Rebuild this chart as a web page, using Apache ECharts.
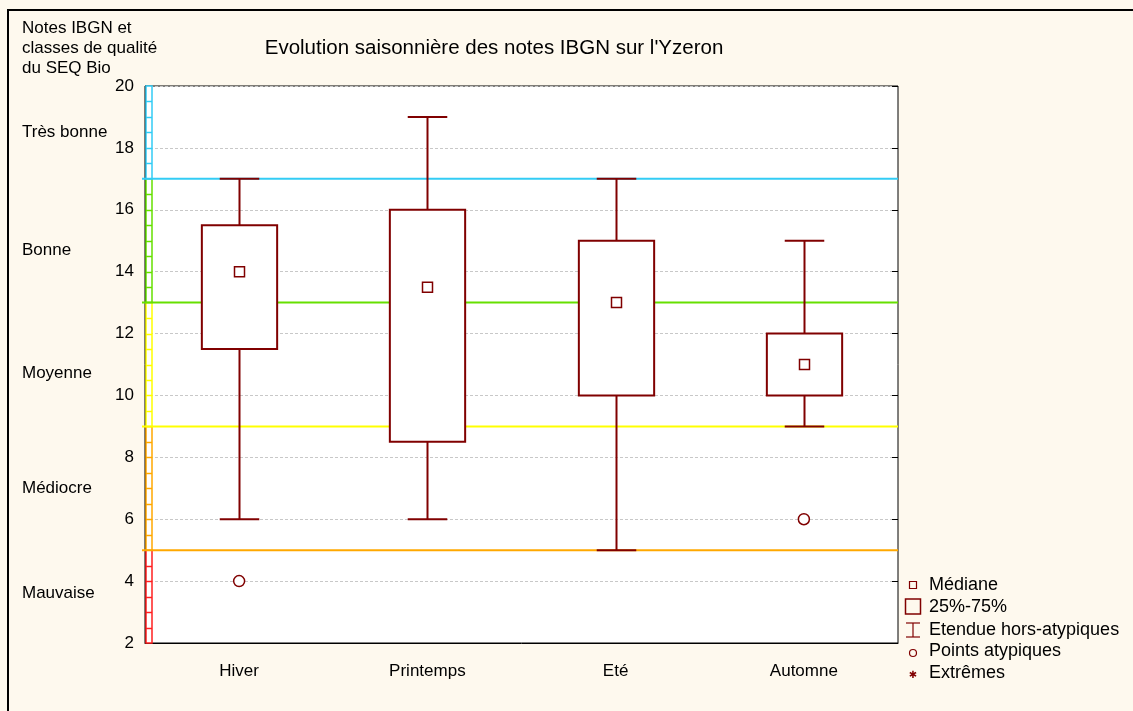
<!DOCTYPE html>
<html>
<head>
<meta charset="utf-8">
<script src="https://cdn.jsdelivr.net/npm/echarts@6/dist/echarts.min.js"></script>
<style>
  html, body { margin: 0; padding: 0; background: #FEF9EE; }
  #chart { width: 1133px; height: 711px; }
</style>
</head>
<body>
<div id="chart"></div>
<script>
// Seasons on the x axis
const categories = ['Hiver', 'Printemps', 'Eté', 'Automne'];

// Box-plot statistics per season (IBGN score)
const whiskerLow  = [6, 6, 5, 9];
const quartile1   = [11.5, 8.5, 10, 10];
const medians     = [14, 13.5, 13, 11];
const quartile3   = [15.5, 16, 15, 12];
const whiskerHigh = [17, 19, 17, 15];

// Outliers: [season index, score]
const outliers = [[0, 4], [3, 6]];

// Y axis ticks
const yMin = 2, yMax = 20, yStep = 2;

// SEQ Bio quality classes (bounds from low to high)
const classBounds = [2, 5, 9, 13, 17, 20];
const classNames = ['Mauvaise', 'Médiocre', 'Moyenne', 'Bonne', 'Très bonne'];
const classLabelAt = [3.6, 7.0, 10.7, 14.7, 18.5];
const classColors = ['#FF2020', '#FFA800', '#FFFF00', '#66E000', '#33CCF5'];

const boxColor = '#800000';
const font = '"Liberation Sans", Arial, sans-serif';

const boxData = categories.map((c, i) =>
  [i, whiskerLow[i], quartile1[i], medians[i], quartile3[i], whiskerHigh[i]]);
const classData = classNames.map((n, i) => [0, classBounds[i], classBounds[i + 1], i]);

const chart = echarts.init(document.getElementById('chart'), null, { renderer: 'canvas' });

function renderClass(params, api) {
  const cs = params.coordSys;
  const idx = api.value(3);
  const lo = api.value(1), hi = api.value(2);
  const yLo = api.coord([0, lo])[1];
  const yHi = api.coord([0, hi])[1];
  const color = classColors[idx];
  const ladderX = cs.x + 1, ladderW = 6;
  const children = [];
  // ladder segment on the left edge
  children.push({
    type: 'rect',
    shape: { x: ladderX, y: yHi, width: ladderW, height: yLo - yHi },
    style: { fill: '#fff', stroke: color, lineWidth: 1.5 },
    z2: 5
  });
  for (let v = lo + 0.5; v < hi; v += 0.5) {
    const yy = Math.round(api.coord([0, v])[1]) + 0.5;
    children.push({
      type: 'line',
      shape: { x1: ladderX, y1: yy, x2: ladderX + ladderW, y2: yy },
      style: { stroke: color, lineWidth: 1.5 },
      z2: 6
    });
  }
  // class boundary across the plot
  if (idx > 0) {
    children.push({
      type: 'line',
      shape: { x1: cs.x - 3, y1: yLo, x2: cs.x + cs.width, y2: yLo },
      style: { stroke: color, lineWidth: 2 },
      z2: 7
    });
  }
  // class name in the left margin
  children.push({
    type: 'text',
    style: {
      x: 22, y: api.coord([0, classLabelAt[idx]])[1],
      text: classNames[idx], fill: '#000',
      font: '17px ' + font, textVerticalAlign: 'middle', textAlign: 'left'
    }
  });
  return { type: 'group', children: children };
}

function renderBox(params, api) {
  const i = api.value(0);
  const x = Math.round(api.coord([i, 0])[0]) + 0.5;
  const yLow = api.coord([i, api.value(1)])[1];
  const yQ1 = api.coord([i, api.value(2)])[1];
  const yMed = api.coord([i, api.value(3)])[1];
  const yQ3 = api.coord([i, api.value(4)])[1];
  const yHigh = api.coord([i, api.value(5)])[1];
  const band = api.size([1, 0])[0];
  const boxW = band * 0.4;
  const capW = band * 0.21;
  const st = { stroke: boxColor, lineWidth: 2, fill: null };
  return {
    type: 'group',
    children: [
      { type: 'line', shape: { x1: x, y1: yHigh, x2: x, y2: yQ3 }, style: st },
      { type: 'line', shape: { x1: x, y1: yQ1, x2: x, y2: yLow }, style: st },
      { type: 'line', shape: { x1: x - capW / 2, y1: yHigh, x2: x + capW / 2, y2: yHigh }, style: st },
      { type: 'line', shape: { x1: x - capW / 2, y1: yLow, x2: x + capW / 2, y2: yLow }, style: st },
      { type: 'rect', shape: { x: x - boxW / 2, y: yQ3, width: boxW, height: yQ1 - yQ3 },
        style: { stroke: boxColor, lineWidth: 2, fill: '#fff' } },
      { type: 'rect', shape: { x: x - 5, y: yMed - 5, width: 10, height: 10 },
        style: { stroke: boxColor, lineWidth: 1.5, fill: '#fff' } }
    ]
  };
}

// Legend drawn as graphic elements
const legendX = 913, legendTextX = 929;
const legendRows = [585, 607, 630, 651, 673];
const legendLabels = ['Médiane', '25%-75%', 'Etendue hors-atypiques', 'Points atypiques', 'Extrêmes'];
const legendGraphics = [
  { type: 'rect', shape: { x: legendX - 3.5, y: legendRows[0] - 3.5, width: 7, height: 7 },
    style: { stroke: boxColor, lineWidth: 1.2, fill: 'none' } },
  { type: 'rect', shape: { x: legendX - 7.5, y: legendRows[1] - 8, width: 15, height: 15 },
    style: { stroke: boxColor, lineWidth: 1.5, fill: 'none' } },
  { type: 'line', shape: { x1: legendX - 7, y1: legendRows[2] - 7, x2: legendX + 7, y2: legendRows[2] - 7 },
    style: { stroke: boxColor, lineWidth: 1.2 } },
  { type: 'line', shape: { x1: legendX - 7, y1: legendRows[2] + 7, x2: legendX + 7, y2: legendRows[2] + 7 },
    style: { stroke: boxColor, lineWidth: 1.2 } },
  { type: 'line', shape: { x1: legendX, y1: legendRows[2] - 7, x2: legendX, y2: legendRows[2] + 7 },
    style: { stroke: boxColor, lineWidth: 1.2 } },
  { type: 'circle', shape: { cx: legendX, cy: legendRows[3] + 2, r: 3.5 },
    style: { stroke: boxColor, lineWidth: 1.2, fill: 'none' } },
  { type: 'text', style: { x: legendX, y: legendRows[4] + 2, text: '✱', fill: boxColor,
    font: '10px "DejaVu Sans", sans-serif', textAlign: 'center', textVerticalAlign: 'middle' } }
].concat(legendLabels.map((t, k) => ({
  type: 'text',
  style: { x: legendTextX, y: legendRows[k], text: t, fill: '#000',
    font: '18px ' + font, textVerticalAlign: 'middle' }
})));

const option = {
  backgroundColor: '#FEF9EE',
  animation: false,
  grid: {
    left: 145, top: 86, right: 235, bottom: 68,
    show: true, backgroundColor: '#fff', borderColor: '#000', borderWidth: 1
  },
  xAxis: [
    {
      type: 'category', data: categories, position: 'bottom',
      axisLine: { lineStyle: { color: '#000', width: 1 } },
      axisTick: { inside: true, alignWithLabel: true, length: 5, lineStyle: { color: '#000' } },
      axisLabel: { color: '#000', fontSize: 17, fontFamily: font, margin: 20 },
      splitLine: { show: false }
    },
    {
      type: 'category', data: categories, position: 'top',
      axisLine: { show: false },
      axisTick: { inside: true, alignWithLabel: true, length: 5, lineStyle: { color: '#000' } },
      axisLabel: { show: false },
      splitLine: { show: false }
    }
  ],
  yAxis: [
    {
      type: 'value', min: yMin, max: yMax, interval: yStep, position: 'left',
      axisLine: { show: true, lineStyle: { color: '#000', width: 1 } },
      axisTick: { show: false },
      axisLabel: { color: '#000', fontSize: 17, fontFamily: font, margin: 11 },
      splitLine: { show: true, lineStyle: { color: '#C8C8C8', type: [3, 2], width: 1 } }
    },
    {
      type: 'value', min: yMin, max: yMax, interval: yStep, position: 'right',
      axisLine: { show: false },
      axisTick: { show: true, inside: true, length: 6, lineStyle: { color: '#000' } },
      axisLabel: { show: false },
      splitLine: { show: false }
    }
  ],
  series: [
    {
      type: 'custom', name: 'classes', xAxisIndex: 0, yAxisIndex: 0,
      data: classData, encode: { x: 0, y: [1, 2] },
      renderItem: renderClass, z: 2, silent: true
    },
    {
      type: 'custom', name: 'IBGN', xAxisIndex: 0, yAxisIndex: 0,
      data: boxData, encode: { x: 0, y: [1, 2, 3, 4, 5] },
      renderItem: renderBox, z: 3, silent: true
    },
    {
      type: 'scatter', name: 'Points atypiques', xAxisIndex: 0, yAxisIndex: 0,
      data: outliers, symbol: 'circle', symbolSize: 11,
      itemStyle: { color: '#fff', borderColor: boxColor, borderWidth: 1.5, opacity: 1 },
      z: 4, silent: true
    }
  ],
  graphic: [
    // outer frame
    { type: 'line', shape: { x1: 7, y1: 10, x2: 1133, y2: 10 }, style: { stroke: '#000', lineWidth: 2 } },
    { type: 'line', shape: { x1: 8, y1: 9, x2: 8, y2: 711 }, style: { stroke: '#000', lineWidth: 2 } },
    // headings
    { type: 'text', style: { x: 22, y: 28, text: 'Notes IBGN et', fill: '#000', font: '17px ' + font, textVerticalAlign: 'middle' } },
    { type: 'text', style: { x: 22, y: 48, text: 'classes de qualité', fill: '#000', font: '17px ' + font, textVerticalAlign: 'middle' } },
    { type: 'text', style: { x: 22, y: 68, text: 'du SEQ Bio', fill: '#000', font: '17px ' + font, textVerticalAlign: 'middle' } },
    { type: 'text', style: { x: 494, y: 48, text: "Evolution saisonnière des notes IBGN sur l'Yzeron", fill: '#000',
      font: '20.5px ' + font, textAlign: 'center', textVerticalAlign: 'middle' } }
  ].concat(legendGraphics)
};

chart.setOption(option);
</script>
</body>
</html>
